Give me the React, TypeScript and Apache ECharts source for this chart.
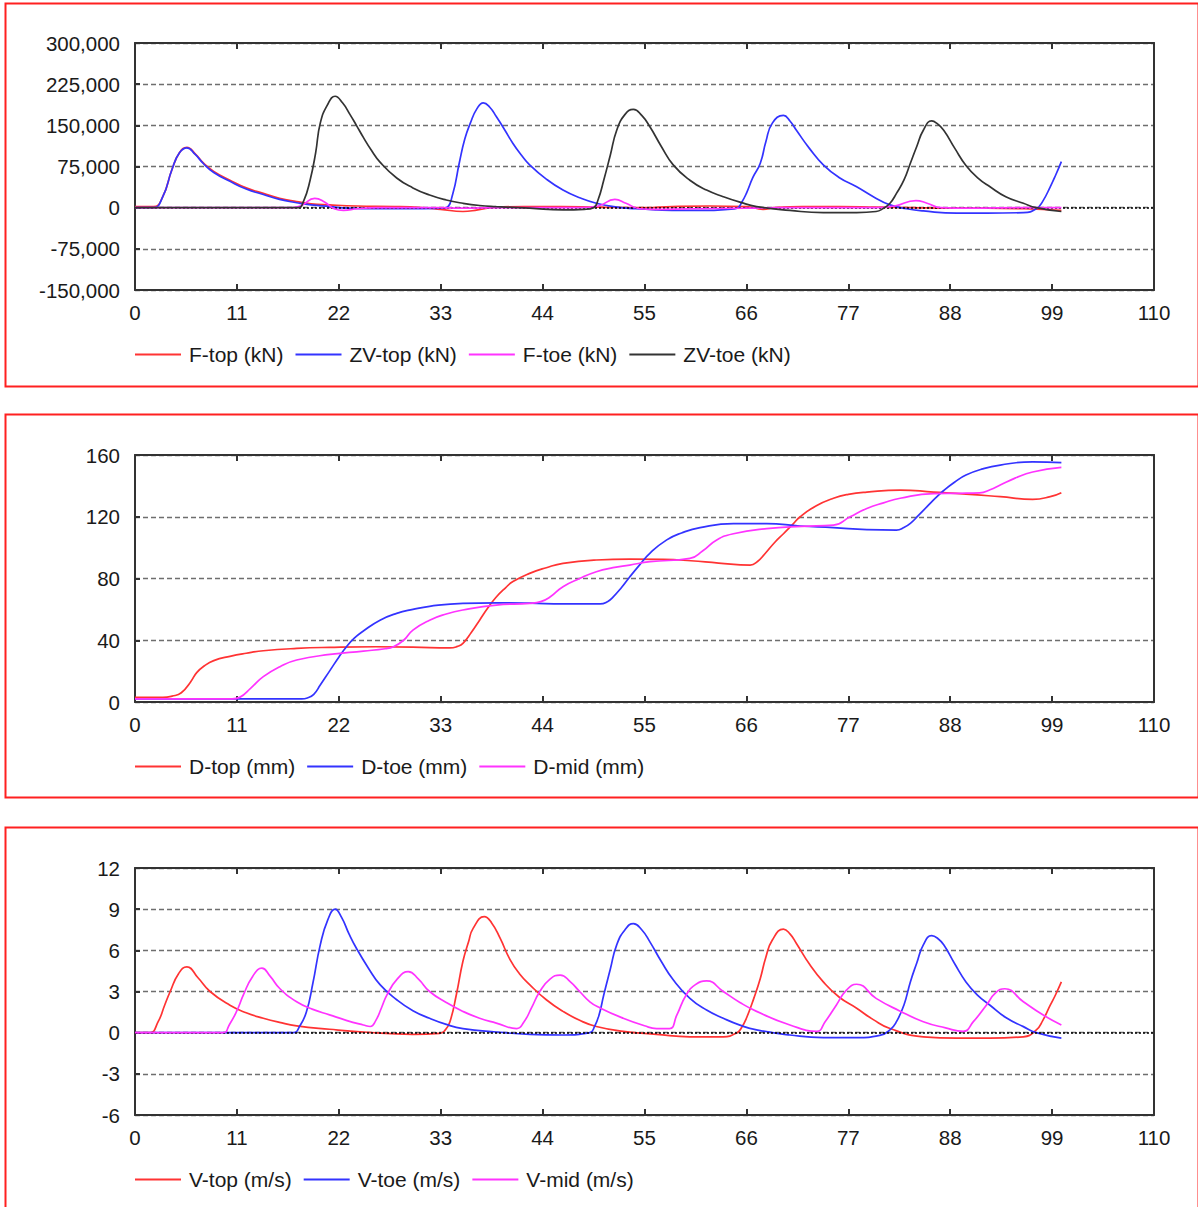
import React, { useEffect, useRef } from "react";
import * as echarts from "echarts";

// ---------- Panel 1: forces (kN) ----------
const xTicks = [0, 11, 22, 33, 44, 55, 66, 77, 88, 99, 110];

const fTop: number[][] = [
  [0, 2000], [2, 2000], [3, 20000], [4, 70000], [4.8, 100000], [5.6, 110000], [6.5, 98000], [7.4, 81000],
  [8.5, 66000], [10.25, 50000], [12, 36000], [13.85, 26000], [15.6, 17000], [17.45, 11000], [19, 7000],
  [21, 5000], [24, 3000], [28, 2000], [31, 0], [33, -3000], [35.4, -7000], [37, -4000], [39, 1000],
  [42, 2000], [46, 2000], [50, 1000], [55, 0], [58, 2000], [62, 3000], [66, 2000], [67.8, -3000],
  [69, 0], [72, 2000], [76, 2000], [80, 1000], [84, 0], [88, -1000], [92, -1000], [96, -2000], [100, -5000],
];
const zvTop: number[][] = [
  [0, 0], [2, 0], [3, 20000], [4, 70000], [4.8, 100000], [5.6, 109000], [6.5, 97000], [7.4, 80000],
  [8.5, 64000], [10.25, 48000], [12, 34000], [13.85, 24000], [15.6, 15000], [17.45, 9000], [19, 5000],
  [21, 2000], [23, -1000], [26, -2000], [30, -2000], [33, -1000], [33.6, 0], [34.3, 25000], [35, 81000],
  [35.6, 125000], [36.2, 154000], [36.9, 180000], [37.6, 191000], [38.3, 183000], [39, 166000],
  [39.9, 142000], [40.8, 117000], [41.7, 96000], [42.6, 78000], [44.4, 52000], [46.2, 32000], [48, 18000],
  [49.8, 8000], [52, 1000], [54, -2000], [56.3, -4000], [59, -5000], [61.7, -5000], [64, -3000],
  [65, -1000], [65.5, 10000], [66, 26000], [66.7, 55000], [67.5, 81000], [68.1, 120000], [68.8, 154000],
  [70, 168000], [70.7, 158000], [71.4, 141000], [72.8, 108000], [74.3, 78000], [76, 55000], [77.9, 38000],
  [79.7, 20000], [81.5, 5000], [83.3, -2000], [85.1, -6000], [88.7, -10000], [92, -10000], [95.9, -9000],
  [97.3, -2000], [98, 12000], [98.8, 38000], [99.4, 60000], [100, 84000],
];
const fToe: number[][] = [
  [0, 0], [17, 0], [18, 4000], [19.4, 17000], [20.5, 10000], [21.5, -2000], [22.5, -5000], [24, -2000],
  [26, 0], [33, 0], [35, -1000], [40, 0], [48, 0], [50, 3000], [51.8, 15000], [53, 8000], [54.5, -2000],
  [56, -3000], [60, -2000], [66, -1000], [70, 0], [80, 0], [82, 3000], [84.3, 13000], [85.5, 8000],
  [87, 0], [90, -1000], [96, 0], [100, 0],
];
const zvToe: number[][] = [
  [0, 0], [17.6, 0], [18.2, 12000], [18.9, 50000], [19.5, 100000], [20, 154000], [20.8, 188000],
  [21.6, 203000], [22.4, 191000], [23.2, 170000], [23.9, 150000], [24.65, 128000], [25.5, 105000],
  [26.45, 83000], [28.25, 54000], [30, 36000], [31.8, 23000], [33.6, 14000], [35.4, 8000], [37.2, 4000],
  [39, 2000], [42.6, -1000], [46.2, -4000], [48.5, -3000], [49.5, 0], [50, 15000], [50.6, 50000],
  [51.3, 95000], [52, 141000], [52.9, 170000], [53.8, 179000], [54.7, 168000], [55.6, 147000],
  [56.8, 112000], [58.1, 78000], [59.9, 50000], [61.7, 32000], [63.5, 20000], [65.3, 10000], [67.1, 2000],
  [70.7, -5000], [74.3, -9000], [77.9, -9000], [80, -7000], [80.8, -1000], [81.5, 8000], [82.2, 26000],
  [83, 50000], [83.7, 81000], [84.4, 112000], [85.1, 141000], [86, 158000], [86.6, 153000], [87.3, 141000],
  [88.5, 108000], [89.7, 77000], [91, 54000], [92.3, 38000], [94, 20000], [95.9, 8000], [97.3, 0],
  [100, -7000],
];

// ---------- Panel 2: displacements (mm) ----------
const dTop: number[][] = [
  [0, 3], [3, 3], [4, 3.8], [5, 6], [6, 13], [6.66, 19], [7.5, 23.5], [8.5, 26.8], [10.25, 29.6], [12, 31.6],
  [13.85, 33.2], [17.45, 34.7], [21, 35.4], [26, 35.8], [30, 35.6], [34, 35], [34.8, 36], [35.4, 38],
  [36.3, 45], [37.2, 53], [38.1, 61], [39, 68], [40, 74], [40.8, 78], [42.6, 83.3], [44.4, 87],
  [46.2, 89.8], [49.8, 92], [53.4, 92.6], [57, 92.4], [60, 91.5], [63, 90], [66.4, 88.7], [67.2, 91],
  [68, 96], [69, 103], [70, 109], [71, 115], [71.8, 120], [73.5, 127], [75.4, 132], [77, 134.5], [79, 136],
  [82.6, 137.3], [86.2, 136], [89.7, 134.7], [93.4, 133], [96.9, 131.3], [98.8, 133], [100, 135.6],
];
const dToe: number[][] = [
  [0, 2], [18, 2], [18.6, 2.6], [19.3, 5], [20, 11], [21, 20], [22, 29], [22.85, 36], [23.7, 41.5],
  [24.65, 46], [26.45, 53], [28.25, 57.4], [30, 60], [31.8, 62], [35.4, 63.9], [39, 64.2], [42.6, 64],
  [46.2, 63.5], [50.2, 63.5], [51, 65], [51.6, 68], [52.5, 74], [53.4, 81], [54.5, 89], [55.6, 96.5],
  [57.4, 105], [59, 109.5], [61, 113], [64.6, 115.6], [68.2, 115.6], [71.8, 114], [75.4, 113], [79, 111.7],
  [82.2, 111.4], [83, 113], [83.7, 115.7], [84.6, 121], [85.5, 126.5], [86.4, 132], [87.3, 137],
  [88.5, 142.5], [89.7, 147], [91.5, 151], [93.4, 153.5], [96.9, 155.6], [100, 155],
];
const dMid: number[][] = [
  [0, 2], [10.5, 2], [11.3, 3], [12.5, 9], [13.85, 16.4], [15.65, 22.9], [17.45, 27.2], [21.05, 30.8],
  [24.65, 33], [27, 34.5], [27.9, 35.8], [29, 40], [30, 46.6], [31.8, 53], [33.6, 57], [35.4, 59.6],
  [39, 62.8], [42.6, 63.9], [43.8, 65], [44.8, 68], [46.2, 74.7], [48, 80], [49.8, 84.4], [51.6, 87],
  [53.4, 88.7], [55.6, 90.9], [59.9, 93], [61.3, 98], [62.8, 105], [64.6, 109], [68.2, 112.3], [72, 113.8],
  [75.4, 114.6], [77.2, 120], [79, 125.4], [80.8, 129], [82.6, 132], [86.2, 135], [89, 135.2],
  [91.2, 135.5], [92.3, 137.5], [93.4, 140.5], [95, 145], [96.9, 149], [100, 152],
];

// ---------- Panel 3: velocities (m/s) ----------
const vTop: number[][] = [
  [0, 0], [1.6, 0], [2.5, 0.8], [3.2, 2], [3.8, 3], [4.7, 4.3], [5.6, 4.8], [6.8, 4.0], [8.1, 3.0],
  [10.25, 2.0], [12, 1.45], [13.85, 1.05], [15.6, 0.75], [17.45, 0.5], [21, 0.25], [24.65, 0.05],
  [30, -0.12], [32.9, -0.05], [33.5, 0.2], [34, 0.8], [34.7, 2.8], [35.4, 5.2], [36, 6.6], [36.5, 7.6],
  [37.7, 8.45], [38.5, 8.0], [39.4, 6.9], [40.5, 5.3], [41.5, 4.3], [42.6, 3.5], [44.4, 2.4], [46.2, 1.55],
  [48, 0.9], [49.8, 0.45], [52.7, 0.1], [56.3, -0.12], [59.9, -0.3], [63.5, -0.3], [65, 0], [65.5, 0.4],
  [66, 1.05], [66.8, 2.5], [67.5, 3.95], [68.1, 5.5], [68.8, 6.75], [70, 7.55], [70.7, 7.2], [71.4, 6.5],
  [72.8, 5.0], [74.3, 3.7], [76, 2.6], [77.9, 1.78], [79.7, 0.95], [81.5, 0.3], [85.1, -0.3], [88.7, -0.4],
  [92.3, -0.4], [95.9, -0.3], [97.3, 0.2], [98, 0.9], [98.8, 2.0], [99.4, 2.8], [100, 3.7],
];
const vToe: number[][] = [
  [0, 0], [17.1, 0], [17.8, 0.5], [18.5, 1.5], [19.2, 3.6], [20, 6.4], [20.8, 8.2], [21.6, 9.0],
  [22.3, 8.4], [23.1, 7.2], [23.9, 6.15], [25.2, 4.7], [26.45, 3.5], [28.25, 2.4], [30, 1.6], [31.8, 1.05],
  [33.6, 0.6], [35.4, 0.3], [39, 0.05], [42.6, -0.12], [46.2, -0.17], [49.1, 0], [49.6, 0.44], [50.1, 1.3],
  [50.6, 2.75], [51.3, 4.6], [52, 6.4], [52.9, 7.5], [53.8, 7.95], [54.7, 7.5], [55.6, 6.6], [56.8, 5.2],
  [58.1, 3.85], [59.9, 2.5], [61.7, 1.65], [63.5, 1.05], [65.3, 0.55], [67.1, 0.2], [70.7, -0.17],
  [74.3, -0.36], [77.9, -0.36], [80.4, -0.2], [81.5, 0.2], [82.2, 0.8], [83, 2.0], [83.7, 3.7], [84.4, 5.1],
  [85.1, 6.4], [86, 7.07], [86.6, 6.9], [87.3, 6.4], [88.5, 5.0], [89.7, 3.7], [91, 2.7], [92.3, 2.0],
  [94, 1.1], [95.9, 0.44], [97.3, 0], [100, -0.4],
];
const vMid: number[][] = [
  [0, 0], [9.5, 0], [10.2, 0.6], [11, 1.6], [11.7, 2.75], [12.7, 4.1], [13.7, 4.7], [14.6, 4.1],
  [15.65, 3.2], [17.45, 2.25], [19.2, 1.7], [21, 1.3], [22.8, 0.9], [24.65, 0.56], [25.4, 0.45], [26, 0.9],
  [26.6, 1.8], [27.2, 2.75], [28.3, 3.9], [29.5, 4.45], [30.6, 3.9], [31.8, 3.0], [33.6, 2.2], [35.4, 1.55],
  [37.2, 1.05], [39, 0.7], [41.2, 0.3], [42, 0.8], [42.8, 1.8], [43.7, 3.0], [44.8, 3.9], [45.9, 4.2],
  [47, 3.7], [48, 3.0], [49.1, 2.25], [50.2, 1.8], [52.7, 1.05], [55, 0.5], [56.3, 0.3], [57.7, 0.3],
  [58.5, 1.3], [59.5, 2.75], [60.5, 3.5], [61.7, 3.77], [63.5, 3.0], [65.3, 2.2], [67.1, 1.55], [70.7, 0.56],
  [73.6, 0.1], [74.5, 0.8], [75.7, 2.0], [76.8, 3.1], [77.9, 3.53], [80, 2.5], [82.5, 1.6], [85.1, 0.8],
  [87.5, 0.35], [89.4, 0.1], [90.5, 0.8], [91.9, 2.0], [92.9, 2.9], [93.9, 3.2], [95.9, 2.25], [98, 1.3],
  [100, 0.56],
];

const RED = "#ff3333";
const BLUE = "#3333ff";
const MAGENTA = "#ff33ff";
const BLACK = "#333333";

const FONT = "Liberation Sans, Arial, sans-serif";
const TEXT = "#1a1a1a";
const FS_AXIS = 20.5;
const FS_LEGEND = 21;

const GRID_LEFT = 135;
const GRID_W = 1019;
const GRID_H = 247;
const gridTops = [43, 455, 868];
const legendTops = [344, 756, 1169];
const panelRects = [
  [3, 1, 1193, 383],
  [3, 412, 1193, 383],
  [3, 825, 1193, 383],
];

const yRanges = [
  { min: -150000, max: 300000, interval: 75000 },
  { min: 0, max: 160, interval: 40 },
  { min: -6, max: 12, interval: 3 },
];

const panelSeries = [
  [
    { name: "F-top (kN)", data: fTop, color: RED },
    { name: "ZV-top (kN)", data: zvTop, color: BLUE },
    { name: "F-toe (kN)", data: fToe, color: MAGENTA },
    { name: "ZV-toe (kN)", data: zvToe, color: BLACK },
  ],
  [
    { name: "D-top (mm)", data: dTop, color: RED },
    { name: "D-toe (mm)", data: dToe, color: BLUE },
    { name: "D-mid (mm)", data: dMid, color: MAGENTA },
  ],
  [
    { name: "V-top (m/s)", data: vTop, color: RED },
    { name: "V-toe (m/s)", data: vToe, color: BLUE },
    { name: "V-mid (m/s)", data: vMid, color: MAGENTA },
  ],
];

function buildOption() {
  const grid: any[] = [];
  const xAxis: any[] = [];
  const yAxis: any[] = [];
  const legend: any[] = [];
  const series: any[] = [];
  const graphic: any[] = [];

  const axisLine = { show: true, onZero: false, lineStyle: { color: "#333", width: 2 } };
  const tickStyle = { color: "#333", width: 2 };

  for (let p = 0; p < 3; p++) {
    grid.push({ left: GRID_LEFT, top: gridTops[p], width: GRID_W, height: GRID_H, containLabel: false });
    xAxis.push({
      type: "value",
      gridIndex: p,
      position: "bottom",
      min: 0,
      max: 110,
      interval: 11,
      axisLine,
      axisTick: { show: true, inside: true, length: 6, lineStyle: tickStyle },
      axisLabel: {
        show: true,
        margin: 12,
        fontFamily: FONT,
        fontSize: FS_AXIS,
        color: TEXT,
        customValues: xTicks,
      },
      splitLine: { show: false },
    });
    xAxis.push({
      type: "value",
      gridIndex: p,
      position: "top",
      min: 0,
      max: 110,
      interval: 11,
      axisLine,
      axisTick: { show: true, inside: true, length: 6, lineStyle: tickStyle },
      axisLabel: { show: false },
      splitLine: { show: false },
    });
    const yr = yRanges[p];
    yAxis.push({
      type: "value",
      gridIndex: p,
      position: "left",
      min: yr.min,
      max: yr.max,
      interval: yr.interval,
      axisLine,
      axisTick: { show: true, inside: true, length: 5, lineStyle: tickStyle },
      axisLabel: {
        margin: 15,
        fontFamily: FONT,
        fontSize: FS_AXIS,
        color: TEXT,
        formatter: (v: number) => (p === 0 ? v.toLocaleString("en-US") : String(v)),
      },
      splitLine: { show: true, lineStyle: { color: "#6e6e6e", width: 1.3, type: [5, 3] } },
    });
    yAxis.push({
      type: "value",
      gridIndex: p,
      position: "right",
      min: yr.min,
      max: yr.max,
      interval: yr.interval,
      axisLine,
      axisTick: { show: false },
      axisLabel: { show: false },
      splitLine: { show: false },
    });

    const items = panelSeries[p];
    legend.push({
      show: true,
      left: GRID_LEFT,
      top: legendTops[p],
      padding: 0,
      orient: "horizontal",
      itemWidth: 46,
      itemHeight: 14,
      itemGap: 12,
      icon: "path://M0,6 L46,6 L46,8 L0,8 Z",
      data: items.map((s) => ({ name: s.name, itemStyle: { color: s.color } })),
      textStyle: { fontFamily: FONT, fontSize: FS_LEGEND, color: TEXT, padding: [0, 0, 0, 3] },
      selectedMode: false,
    });

    items.forEach((s, i) => {
      const ser: any = {
        name: s.name,
        type: "line",
        xAxisIndex: p * 2,
        yAxisIndex: p * 2,
        data: s.data,
        smooth: 0.5,
        symbol: "none",
        showSymbol: false,
        lineStyle: { color: s.color, width: 1.7 },
        itemStyle: { color: s.color },
        z: 3 + i,
      };
      if (i === 0 && p !== 1) {
        ser.markLine = {
          silent: true,
          symbol: "none",
          label: { show: false },
          lineStyle: { color: "#000", width: 1.5, type: [2, 2] },
          data: [{ yAxis: 0 }],
        };
      }
      series.push(ser);
    });

    const r = panelRects[p];
    graphic.push({
      type: "rect",
      left: r[0],
      top: r[1],
      shape: { x: 0, y: 0, width: r[2], height: r[3] },
      style: { fill: "none", stroke: "#ff2020", lineWidth: 2 },
      z: 100,
      silent: true,
    });
  }

  return {
    animation: false,
    backgroundColor: "#ffffff",
    grid,
    xAxis,
    yAxis,
    legend,
    series,
    graphic,
  };
}

export default function App() {
  const ref = useRef<HTMLDivElement>(null);
  useEffect(() => {
    if (!ref.current) return;
    const chart = echarts.init(ref.current, undefined, { renderer: "svg" });
    chart.setOption(buildOption() as any);
    return () => chart.dispose();
  }, []);
  return (
    <div
      ref={ref}
      style={{ position: "absolute", left: 0, top: 0, width: 1198, height: 1207, background: "#fff" }}
    />
  );
}
